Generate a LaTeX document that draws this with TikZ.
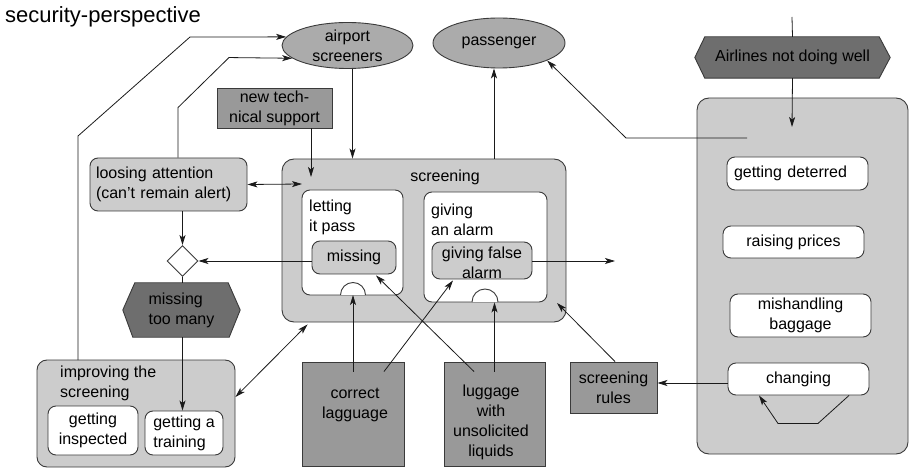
\documentclass[tikz,border=0pt]{standalone}
\usepackage{fontspec}
\setmainfont{Liberation Sans}
\usetikzlibrary{arrows.meta,shapes.geometric}
\pgfdeclarelayer{background}
\pgfsetlayers{background,main}

\definecolor{lightfill}{HTML}{CCCCCC}
\definecolor{midfill}{HTML}{999999}
\definecolor{ovalfill}{HTML}{ABABAB}
\definecolor{darkfill}{HTML}{6E6E6E}
\definecolor{edgecol}{HTML}{3A3A3A}
\definecolor{linecol}{HTML}{1A1A1A}

\tikzset{
  base/.style={inner sep=0pt, font=\fontsize{16}{20}\selectfont},
  oval/.style={base, ellipse, draw=edgecol, line width=0.9pt, fill=ovalfill, align=center},
  group/.style={base, draw=edgecol, line width=0.9pt, fill=lightfill, rounded corners=12pt},
  statebox/.style={base, draw=edgecol, line width=0.9pt, fill=white, rounded corners=8pt, align=center},
  greybox/.style={base, draw=edgecol, line width=0.9pt, fill=lightfill, rounded corners=8pt, align=center},
  objbox/.style={base, draw=edgecol, line width=0.9pt, fill=midfill, align=center},
  hexnode/.style={base, align=left},
  hexfill/.style={draw=edgecol, line width=0.9pt, fill=darkfill},
  decision/.style={base, diamond, draw=edgecol, line width=0.9pt, fill=white, minimum width=31pt, minimum height=31pt},
  txt/.style={base, align=left},
  semi/.style={draw=edgecol, line width=0.9pt, fill=white},
  conn/.style={draw=linecol, line width=0.8pt},
  arr/.style={conn, -{Stealth[length=10pt,width=6pt,inset=2.5pt]}},
  darr/.style={conn, {Stealth[length=10pt,width=6pt,inset=2.5pt]}-{Stealth[length=10pt,width=6pt,inset=2.5pt]}},
}

\begin{document}
\begin{tikzpicture}[x=1pt,y=-1pt]
\useasboundingbox (0,0) rectangle (910,470);

% title
\node[base, anchor=base west, font=\fontsize{22}{26}\selectfont] (title) at (5,23) {security-perspective};

% actors
\node[oval, minimum width=131pt, minimum height=46pt] (ascr) at (347.5,45.5) {airport\\screeners};
\node[oval, minimum width=132pt, minimum height=50pt] (pass) at (499,43) {passenger};

\node[objbox, minimum width=115pt, minimum height=40pt] (nts) at (274.5,108) {new tech-\\nical support};

% screening group
\node[group, minimum width=284pt, minimum height=163pt] (scr) at (424,240.5) {};
\node[base] (scrlbl) at (445,177) {screening};
\node[statebox, minimum width=101pt, minimum height=105pt] (letpass) at (352.5,242.5) {};
\node[txt, anchor=west] (letlbl) at (309,217) {letting\\it pass};
\node[greybox, minimum width=84pt, minimum height=33pt] (missing) at (354,257.5) {missing};
\node[statebox, minimum width=123pt, minimum height=110pt] (givalarm) at (485.5,247) {};
\node[txt, anchor=west] (givlbl) at (431,219.5) {giving\\an alarm};
\node[greybox, minimum width=100pt, minimum height=37pt] (gfalse) at (482,260.5) {};
\node[base, align=center] (gflbl) at (482,263) {giving false\\alarm};
\coordinate (sc1) at (353,295);
\coordinate (sc2) at (485,302);
\filldraw[semi] ([xshift=-12.5pt]sc1) arc[start angle=180, end angle=0, radius=12.5pt];
\filldraw[semi] ([xshift=-13pt]sc2) arc[start angle=180, end angle=0, radius=13pt];

% attention and decision
\node[greybox, align=left, text width=145pt, inner xsep=6pt, minimum height=53pt] (loosing) at (168.5,184.5) {loosing attention\\(can't remain alert)};
\node[decision] (dia) at (182.5,261) {};
\node[hexnode, minimum width=117pt, minimum height=54pt] (mtm) at (181.5,310) {missing\\too many};

% improving group
\node[group, rounded corners=10pt, minimum width=198pt, minimum height=107pt] (impr) at (136,413.5) {};
\node[txt, anchor=west] (imprlbl) at (60,383) {improving the\\screening};
\node[statebox, minimum width=90pt, minimum height=49pt] (gins) at (93,430.5) {getting\\inspected};
\node[statebox, align=left, minimum width=78pt, minimum height=44pt] (gtrain) at (184,433) {getting a\\training};

% objects
\node[objbox, minimum width=102pt, minimum height=104pt] (corr) at (353,414) {};
\node[base, align=center] (corrlbl) at (355,405) {correct\\lagguage};
\node[objbox, minimum width=101pt, minimum height=104pt] (lug) at (494.5,414) {};
\node[base, align=center] (luglbl) at (491,422) {luggage\\with\\unsolicited\\liquids};
\node[objbox, minimum width=87pt, minimum height=51pt] (srules) at (613.5,387.5) {screening\\rules};

% airline group
\node[hexnode, minimum width=195pt, minimum height=41pt] (airl) at (792.5,57.5) {Airlines not doing well};
\node[group, minimum width=211pt, minimum height=356pt] (airgrp) at (802.5,276) {};
\node[statebox, align=left, text width=127pt, inner xsep=7pt, minimum height=33pt] (gdet) at (797.5,173.5) {getting deterred};
\node[statebox, minimum width=141pt, minimum height=32pt] (rprice) at (793.5,242) {raising prices};
\node[statebox, minimum width=141pt, minimum height=43pt] (mish) at (800.5,315.5) {mishandling\\baggage};
\node[statebox, minimum width=141pt, minimum height=32pt] (chg) at (798.5,379) {changing};

% hexagon outlines
\begin{pgfonlayer}{background}
  \path[hexfill] ([xshift=12pt]mtm.north west) -- ([xshift=-12pt]mtm.north east) -- (mtm.east)
    -- ([xshift=-11pt]mtm.south east) -- ([xshift=10pt]mtm.south west) -- (mtm.west) -- cycle;
  \path[hexfill] ([xshift=10pt]airl.north west) -- ([xshift=-11pt]airl.north east) -- (airl.east)
    -- ([xshift=-11pt]airl.south east) -- ([xshift=10pt]airl.south west) -- (airl.west) -- cycle;
\end{pgfonlayer}

% free ends and bend points
\coordinate (scrIn) at (311,177);
\coordinate (scrL) at (302,184);
\coordinate (scrR) at (557,303);
\coordinate (gfOut) at (615,261);
\coordinate (topIn) at (792,17);
\coordinate (airIn) at (792,127);
\coordinate (airOut) at (747,138);
\coordinate (scrTop) at ([xshift=70pt]scr.north);
\coordinate (imprUp) at (78,360);

% connectors
\draw[arr] (letpass.center |- ascr.south) -- (letpass.center |- scr.north);
\draw[arr] (nts.south -| scrIn) -- (scrIn);
\draw[darr] (loosing.east) -- (scrL);
\draw[arr] ([xshift=9.5pt]loosing.north) -- ++(0,-50) -- ++(51,-50) -- (ascr.193);
\draw[arr] (imprUp) -- (78,136) -- (190,37) -- (ascr.172);
\draw[arr] (missing.west |- dia.east) -- (dia.east);
\draw[arr] (loosing.south -| dia.north) -- (dia.north);
\draw[conn] (dia.south) -- (mtm.north -| dia.south);
\draw[arr] (mtm.south -| dia.south) -- (dia.south |- gtrain.north);
\draw[darr] ([yshift=16.5pt]impr.east) -- ([xshift=26pt,yshift=-2pt]scr.south west);
\draw[arr] ([yshift=-10pt]corr.north) -- (sc1);
\draw[arr] ([xshift=31pt,yshift=-10pt]corr.north) -- ([xshift=-29pt,yshift=-1pt]gfalse.south);
\draw[arr] ([xshift=-20.5pt,yshift=-10pt]lug.north) -- ([xshift=22pt,yshift=-1pt]missing.south);
\draw[arr] ([yshift=-10pt]lug.north) -- (lug.north |- givalarm.south);
\draw[arr] ([xshift=1.5pt]srules.north) -- (scrR);
\draw[arr] (gfalse.east |- gfOut) -- (gfOut);
\draw[arr] ([yshift=-4pt]chg.west) -- ([yshift=4.5pt]srules.east);
\draw[arr] ([xshift=50.5pt]chg.south) -- ++(-31,28) -- ++(-40,0) -- ([xshift=-39.5pt]chg.south);
\draw[conn] (topIn) -- (airl.north);
\draw[arr] (airl.south) -- (airIn);
\draw[arr] (airOut) -- (626,138) -- (pass.340);
\draw[arr] (scrTop) -- (scrTop |- pass.south);
\end{tikzpicture}
\end{document}
